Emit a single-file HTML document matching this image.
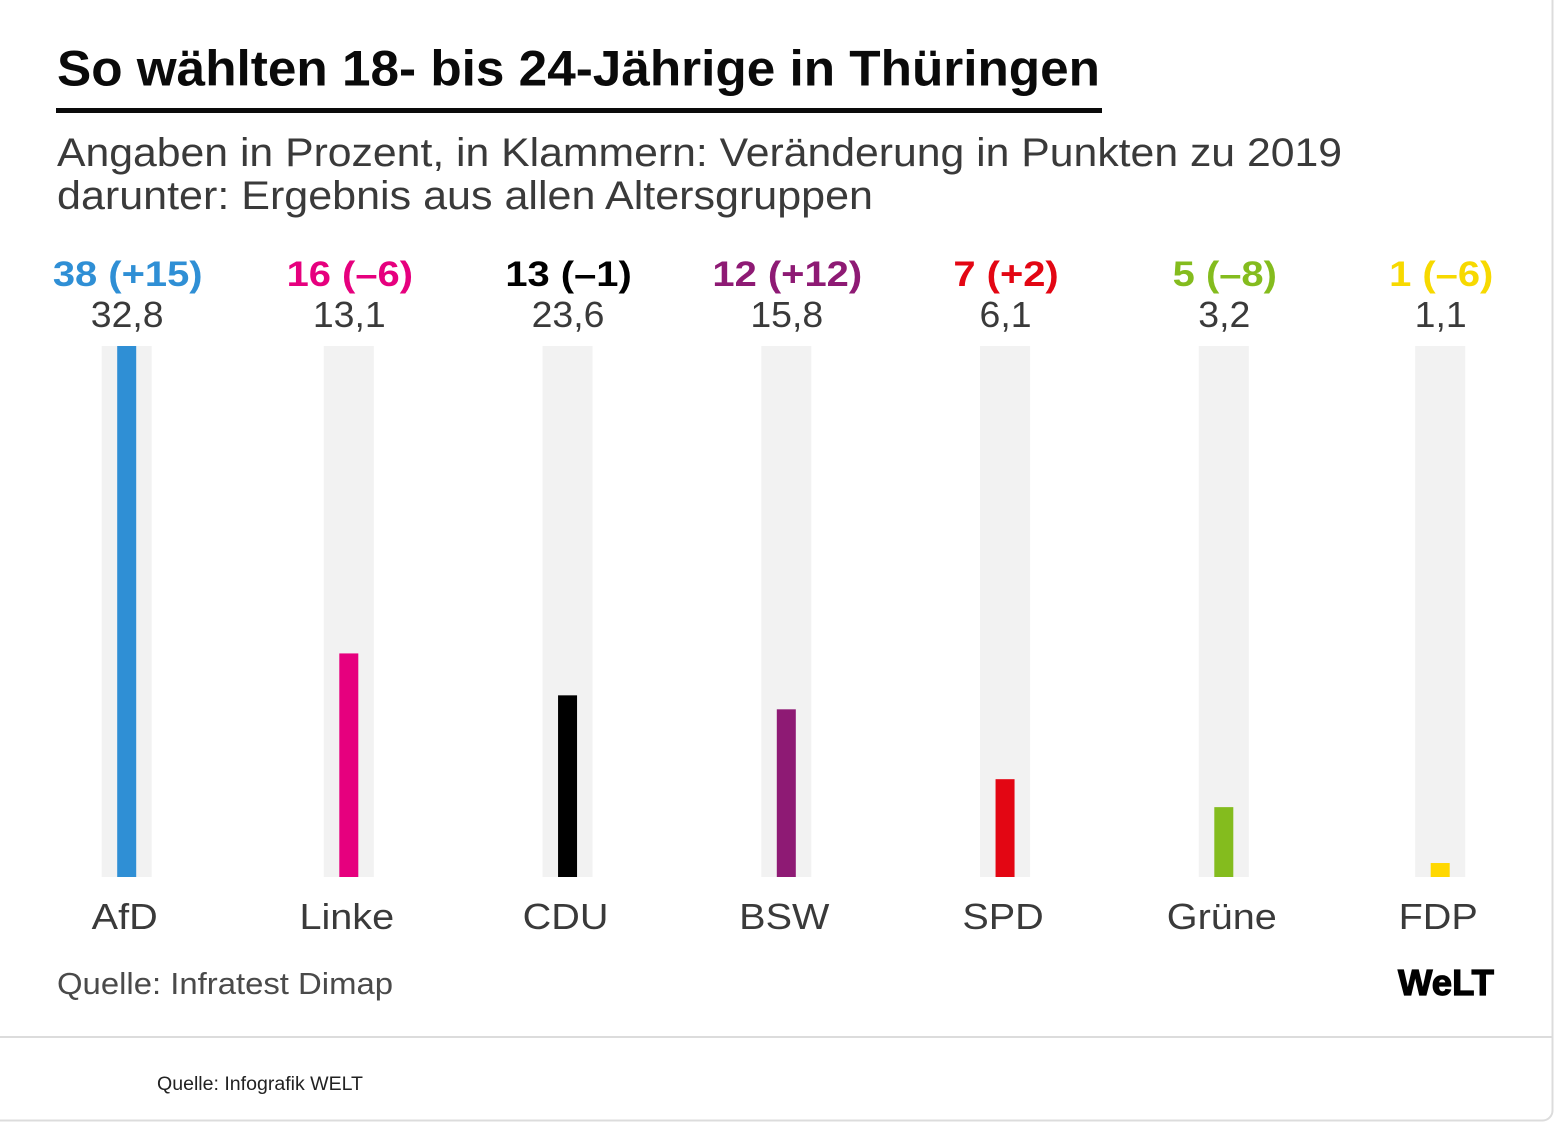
<!DOCTYPE html>
<html lang="de">
<head>
<meta charset="utf-8">
<title>So wählen 18- bis 24-Jährige in Thüringen</title>
<style>
html,body{margin:0;padding:0;background:#fff;width:1554px;height:1126px;overflow:hidden}
svg{display:block;position:absolute;left:0;top:0}
text{font-family:"Liberation Sans",sans-serif}
</style>
</head>
<body>
<svg id="chart" xmlns="http://www.w3.org/2000/svg" width="1554" height="1126" viewBox="0 0 1554 1126">
  <rect x="-10" y="-10" width="1562.5" height="1130.5" rx="10" fill="#fff" stroke="#dcdcdc" stroke-width="2"/>
  <text x="57" y="85.5" font-size="50" font-weight="700" fill="#0a0a0a" textLength="1043" lengthAdjust="spacingAndGlyphs">So wählten 18- bis 24-Jährige in Thüringen</text>
  <rect x="56" y="108" width="1046" height="5" fill="#0a0a0a"/>
  <text x="57" y="166" font-size="40" fill="#3a3a3a" textLength="1285" lengthAdjust="spacingAndGlyphs">Angaben in Prozent, in Klammern: Veränderung in Punkten zu 2019</text>
  <text x="57" y="209" font-size="40" fill="#3a3a3a" textLength="816" lengthAdjust="spacingAndGlyphs">darunter: Ergebnis aus allen Altersgruppen</text>
  <g id="plot"></g>
  <text x="57" y="994" font-size="31" fill="#4a4a4a" textLength="336" lengthAdjust="spacingAndGlyphs">Quelle: Infratest Dimap</text>
  <text x="1398" y="995" font-size="36" font-weight="700" fill="#000" stroke="#000" stroke-width="1.2" textLength="96" lengthAdjust="spacingAndGlyphs">WeLT</text>
  <rect x="0" y="1036" width="1553" height="2" fill="#dcdcdc"/>
  <text x="157" y="1090" font-size="19" fill="#222" textLength="206" lengthAdjust="spacingAndGlyphs">Quelle: Infografik WELT</text>
</svg>
<script>
const parties = ["AfD", "Linke", "CDU", "BSW", "SPD", "Grüne", "FDP"];
const youthShare = [38, 16, 13, 12, 7, 5, 1];
const changeSince2019 = [15, -6, -1, 12, 2, -8, -6];
const allAgesShare = [32.8, 13.1, 23.6, 15.8, 6.1, 3.2, 1.1];
const partyColors = ["#2f8fd5", "#e6007e", "#000000", "#8e1a74", "#e30613", "#84bc1e", "#ffd800"];

const SVG_NS = "http://www.w3.org/2000/svg";
const plot = document.getElementById("plot");

const yMax = 38;
const plotTop = 346;
const plotBottom = 877;
const trackWidth = 50;
const barWidth = 19;

function yScale(v) {
  return plotBottom - (v / yMax) * (plotBottom - plotTop);
}
function xScale(i) {
  let x = 348.8 + (i - 1) * 218.75;
  if (i === 0) x -= 3.35;
  if (i === parties.length - 1) x -= 2.35;
  return x;
}
function fmtChange(c) {
  return (c > 0 ? "+" : c < 0 ? "–" : "±") + Math.abs(c);
}
function fmtDecimal(v) {
  return v.toFixed(1).replace(".", ",");
}
function makeRect(x, y, w, h, fill) {
  const r = document.createElementNS(SVG_NS, "rect");
  r.setAttribute("x", x);
  r.setAttribute("y", y);
  r.setAttribute("width", w);
  r.setAttribute("height", h);
  r.setAttribute("fill", fill);
  plot.appendChild(r);
  return r;
}
function makeText(str, x, y, size, weight, fill, stretch) {
  const t = document.createElementNS(SVG_NS, "text");
  t.textContent = str;
  t.setAttribute("x", x);
  t.setAttribute("y", y);
  t.setAttribute("font-size", size);
  t.setAttribute("font-weight", weight);
  t.setAttribute("fill", fill);
  t.setAttribute("text-anchor", "middle");
  plot.appendChild(t);
  t.setAttribute("lengthAdjust", "spacingAndGlyphs");
  t.setAttribute("textLength", t.getComputedTextLength() * stretch);
  return t;
}

parties.forEach(function (party, i) {
  const cx = xScale(i);
  const key = party.toLowerCase().replace("ü", "ue");

  const track = makeRect(cx - trackWidth / 2, plotTop, trackWidth, plotBottom - plotTop, "#f2f2f2");
  
  

  const bar = makeRect(cx - barWidth / 2, yScale(youthShare[i]), barWidth, plotBottom - yScale(youthShare[i]), partyColors[i]);
  
  

  const headFill = party === "FDP" ? "#f7d900" : partyColors[i];
  const head = makeText(youthShare[i] + " (" + fmtChange(changeSince2019[i]) + ")", cx + 1, 286, 35, 700, headFill, 1.14);
  
  

  const allAges = makeText(fmtDecimal(allAgesShare[i]), cx + 0.5, 327, 36, 400, "#3a3a3a", 1.04);
  
  

  const label = makeText(party, cx - 2, 929, 36, 400, "#3a3a3a", 1.1);
  
  
});
</script>
</body>
</html>
